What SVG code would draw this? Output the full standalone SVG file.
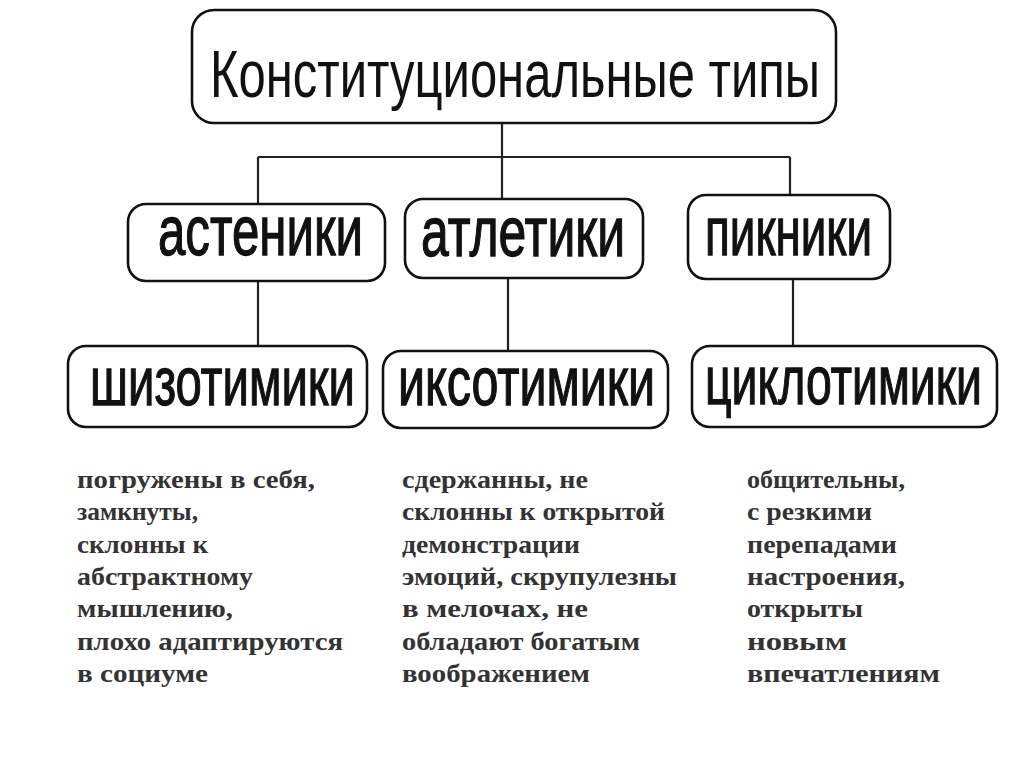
<svg xmlns="http://www.w3.org/2000/svg" width="1024" height="767" viewBox="0 0 1024 767">
<style>
.box{fill:#fff;stroke:#111;stroke-width:2.6}
.lbl{font-family:"Liberation Sans",Arial,sans-serif;fill:#111}
.bold{stroke:#111;stroke-width:1.3}
.conn{stroke:#222;stroke-width:2.2;fill:none}
.desc{font-family:"Liberation Serif","Times New Roman",serif;font-weight:bold;font-size:26px;fill:#333}
</style>
<rect width="1024" height="767" fill="#fff"/>
<g id="connectors">
<path class="conn" d="M502 123 V157 M258 157 H790 M258 157 V204 M502 157 V199 M790 157 V195 M258 281 V346 M508 278 V351 M793 279 V346"/>
</g>
<g id="node-root">
<rect class="box" x="192" y="10" width="644" height="113" rx="22"/>
<text class="lbl" x="210" y="97" font-size="66" textLength="610" lengthAdjust="spacingAndGlyphs">Конституциональные типы</text>
</g>
<g id="node-asteniki">
<rect class="box" x="128" y="204" width="257" height="77" rx="18"/>
<text class="lbl bold" x="158" y="255" font-size="70" textLength="205" lengthAdjust="spacingAndGlyphs">астеники</text>
</g>
<g id="node-atletiki">
<rect class="box" x="405" y="199" width="238" height="79" rx="18"/>
<text class="lbl bold" x="421" y="256" font-size="70" textLength="204" lengthAdjust="spacingAndGlyphs">атлетики</text>
</g>
<g id="node-pikniki">
<rect class="box" x="688" y="195" width="202" height="84" rx="18"/>
<text class="lbl bold" x="705" y="255" font-size="68" textLength="167" lengthAdjust="spacingAndGlyphs">пикники</text>
</g>
<g id="node-shizotimiki">
<rect class="box" x="68" y="346" width="299" height="81" rx="18"/>
<text class="lbl bold" x="90" y="405" font-size="68" textLength="265" lengthAdjust="spacingAndGlyphs">шизотимики</text>
</g>
<g id="node-iksotimiki">
<rect class="box" x="383" y="351" width="285" height="77" rx="18"/>
<text class="lbl bold" x="398" y="405" font-size="68" textLength="257" lengthAdjust="spacingAndGlyphs">иксотимики</text>
</g>
<g id="node-tsiklotimiki">
<rect class="box" x="692" y="346" width="305" height="81" rx="18"/>
<text class="lbl bold" x="705" y="404" font-size="68" textLength="277" lengthAdjust="spacingAndGlyphs">циклотимики</text>
</g>
<g id="desc-left" class="desc">
<text x="77" y="488" textLength="238" lengthAdjust="spacingAndGlyphs">погружены в себя,</text>
<text x="77" y="520" textLength="121" lengthAdjust="spacingAndGlyphs">замкнуты,</text>
<text x="77" y="553" textLength="131" lengthAdjust="spacingAndGlyphs">склонны к</text>
<text x="77" y="585" textLength="176" lengthAdjust="spacingAndGlyphs">абстрактному</text>
<text x="77" y="617" textLength="156" lengthAdjust="spacingAndGlyphs">мышлению,</text>
<text x="77" y="650" textLength="266" lengthAdjust="spacingAndGlyphs">плохо адаптируются</text>
<text x="77" y="682" textLength="131" lengthAdjust="spacingAndGlyphs">в социуме</text>
</g>
<g id="desc-middle" class="desc">
<text x="402" y="488" textLength="186" lengthAdjust="spacingAndGlyphs">сдержанны, не</text>
<text x="402" y="520" textLength="263" lengthAdjust="spacingAndGlyphs">склонны к открытой</text>
<text x="402" y="553" textLength="178" lengthAdjust="spacingAndGlyphs">демонстрации</text>
<text x="402" y="585" textLength="275" lengthAdjust="spacingAndGlyphs">эмоций, скрупулезны</text>
<text x="402" y="617" textLength="186" lengthAdjust="spacingAndGlyphs">в мелочах, не</text>
<text x="402" y="650" textLength="238" lengthAdjust="spacingAndGlyphs">обладают богатым</text>
<text x="402" y="682" textLength="188" lengthAdjust="spacingAndGlyphs">воображением</text>
</g>
<g id="desc-right" class="desc">
<text x="747" y="488" textLength="158" lengthAdjust="spacingAndGlyphs">общительны,</text>
<text x="747" y="520" textLength="125" lengthAdjust="spacingAndGlyphs">с резкими</text>
<text x="747" y="553" textLength="150" lengthAdjust="spacingAndGlyphs">перепадами</text>
<text x="747" y="585" textLength="158" lengthAdjust="spacingAndGlyphs">настроения,</text>
<text x="747" y="617" textLength="116" lengthAdjust="spacingAndGlyphs">открыты</text>
<text x="747" y="650" textLength="100" lengthAdjust="spacingAndGlyphs">новым</text>
<text x="747" y="682" textLength="193" lengthAdjust="spacingAndGlyphs">впечатлениям</text>
</g>
</svg>
